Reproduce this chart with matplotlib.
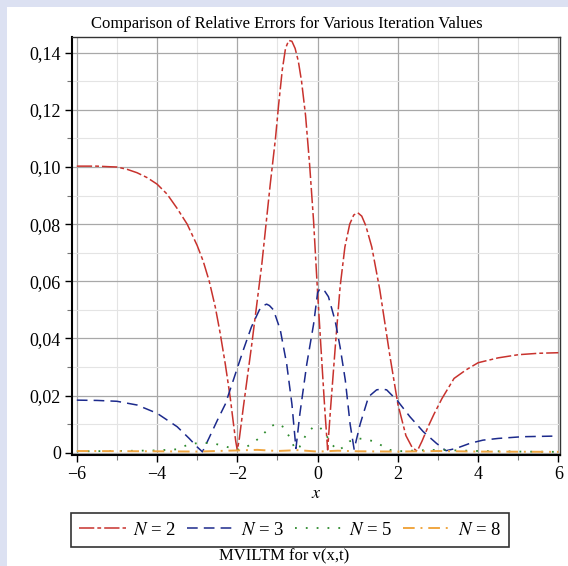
# Relative errors for several iteration counts (MVILTM, v(x,t)), Maple-like look.

import matplotlib
matplotlib.use("Agg")
import matplotlib.pyplot as plt
import matplotlib.ticker as ticker
from matplotlib.patches import Rectangle

plt.rcParams['font.family'] = ['Liberation Serif', 'DejaVu Serif']
plt.rcParams['mathtext.fontset'] = 'stix'

# N = 2 (red)
x_n2 = [-6, -5.5, -5.2, -5, -4.75, -4.5, -4.25, -4, -3.75, -3.5, -3.25, -3, -2.85, -2.7,
        -2.55, -2.43, -2.3, -2.18, -2.1, -2.04, -2.0, -1.95, -1.85, -1.64, -1.39, -1.18,
        -1.05, -0.97, -0.88, -0.8, -0.72, -0.64, -0.56, -0.48, -0.4, -0.3, -0.2, -0.1,
        0.0, 0.1, 0.18, 0.25, 0.32, 0.44, 0.56, 0.68, 0.8, 0.9, 1.0, 1.1, 1.2, 1.35,
        1.55, 1.8, 2.0, 2.2, 2.35, 2.48, 2.6, 2.75, 2.9, 3.1, 3.4, 3.7, 4.0, 4.5, 5.0,
        5.5, 6.0]
y_n2 = [0.1003, 0.1003, 0.1001, 0.1000, 0.0992, 0.0980, 0.0963, 0.0940, 0.0905, 0.0855,
        0.0800, 0.0725, 0.0670, 0.0600, 0.0510, 0.0420, 0.0310, 0.0196, 0.0105, 0.0040,
        0.0008, 0.0050, 0.0160, 0.0380, 0.0660, 0.0940, 0.1100, 0.1220, 0.1340, 0.1415,
        0.1443, 0.1440, 0.1415, 0.1370, 0.1300, 0.1180, 0.1010, 0.0810, 0.0560, 0.0330,
        0.0150, 0.0010, 0.0150, 0.0370, 0.0580, 0.0720, 0.0800, 0.0832, 0.0840, 0.0828,
        0.0795, 0.0720, 0.0570, 0.0340, 0.0170, 0.0060, 0.0020, 0.0005, 0.0040, 0.0090,
        0.0135, 0.0190, 0.0260, 0.0290, 0.0315, 0.0332, 0.0343, 0.0348, 0.0350]

# N = 3 (blue)
x_n3 = [-6, -5.5, -5, -4.5, -4, -3.5, -3.2, -3.0, -2.87, -2.7, -2.5, -2.3, -2.1, -1.85,
        -1.65, -1.45, -1.35, -1.27, -1.2, -1.1, -0.93, -0.77, -0.64, -0.54, -0.44, -0.27,
        -0.1, 0.0, 0.05, 0.1, 0.18, 0.27, 0.44, 0.56, 0.69, 0.81, 0.91, 1.06, 1.27, 1.47,
        1.6, 1.72, 2.0, 2.3, 2.63, 2.96, 3.2, 3.45, 3.8, 4.12, 4.5, 5.1, 5.85]
y_n3 = [0.0184, 0.0183, 0.0180, 0.0167, 0.0138, 0.0091, 0.0050, 0.0020, 0.0003, 0.0053,
        0.0113, 0.0170, 0.0254, 0.0360, 0.0440, 0.0500, 0.0515, 0.0520, 0.0515, 0.0500,
        0.0430, 0.0310, 0.0170, 0.0015, 0.0138, 0.0310, 0.0450, 0.0560, 0.0572, 0.0575,
        0.0565, 0.0546, 0.0460, 0.0370, 0.0254, 0.0100, 0.0012, 0.0100, 0.0196, 0.0220,
        0.0223, 0.0220, 0.0180, 0.0126, 0.0074, 0.0033, 0.0007, 0.0015, 0.0033, 0.0044,
        0.0050, 0.0056, 0.0058]

# N = 5 (green)
x_n5 = [-6, -5, -4, -3.5, -3.2, -2.9, -2.6, -2.3, -2.0, -1.8, -1.6, -1.4, -1.2, -1.03,
        -0.85, -0.7, -0.55, -0.45, -0.3, -0.1, 0.05, 0.2, 0.35, 0.5, 0.65, 0.8, 1.0,
        1.15, 1.4, 1.6, 1.8, 2.0, 2.5, 3, 4, 5, 6]
y_n5 = [0.0005, 0.0006, 0.0008, 0.0012, 0.0030, 0.0035, 0.0033, 0.0022, 0.0010, 0.0018,
        0.0035, 0.0058, 0.0088, 0.0103, 0.0090, 0.0055, 0.0010, 0.0020, 0.0060, 0.0092,
        0.0090, 0.0065, 0.0030, 0.0008, 0.0020, 0.0040, 0.0050, 0.0048, 0.0040, 0.0025,
        0.0010, 0.0005, 0.0008, 0.0010, 0.0006, 0.0004, 0.0003]

# N = 8 (orange)
x_n8 = [-6, -4, -3, -2, -1.5, -1, -0.5, 0, 0.5, 1, 2, 3, 4, 6]
y_n8 = [0.0006, 0.0005, 0.0004, 0.0008, 0.0010, 0.0006, 0.0009, 0.0004, 0.0007, 0.0005,
        0.0004, 0.0006, 0.0004, 0.0003]

labels = [r'$N$ = 2', r'$N$ = 3', r'$N$ = 5', r'$N$ = 8']
colors = ['#c8322d', '#1c2a8c', '#2e8b2e', '#f0a640']

W, H = 568, 566
fig = plt.figure(figsize=(W / 100, H / 100), dpi=100)
fig.patch.set_facecolor('white')

# lavender frame strips top and left
fig.patches.append(Rectangle((0, 1 - 7 / H), 1, 7 / H, transform=fig.transFigure,
                             facecolor='#dce1f2', edgecolor='none', zorder=0))
fig.patches.append(Rectangle((0, 0), 7 / W, 1, transform=fig.transFigure,
                             facecolor='#dce1f2', edgecolor='none', zorder=0))

ax = fig.add_axes([72 / W, 1 - 455 / H, (560 - 72) / W, (455 - 37) / H])

l2, = ax.plot(x_n2, y_n2, color=colors[0], lw=1.1, dashes=(10, 2, 2.5, 2))
l3, = ax.plot(x_n3, y_n3, color=colors[1], lw=1.1, dashes=(7, 4))
l5, = ax.plot(x_n5, y_n5, color=colors[2], lw=1.3, dashes=(1, 5))
l8, = ax.plot(x_n8, y_n8, color=colors[3], lw=1.4, dashes=(6, 3, 1, 3))

ax.set_xlim(-6.12, 6.04)
ax.set_ylim(-0.0008, 0.1455)

ax.xaxis.set_major_locator(ticker.MultipleLocator(2))
ax.xaxis.set_minor_locator(ticker.MultipleLocator(1))
ax.yaxis.set_major_locator(ticker.MultipleLocator(0.02))
ax.yaxis.set_minor_locator(ticker.MultipleLocator(0.01))


def comma_fmt(v, pos):
    if abs(v) < 1e-9:
        return '0'
    return f'{v:.2f}'.replace('.', ',')


ax.yaxis.set_major_formatter(ticker.FuncFormatter(comma_fmt))

ax.grid(which='major', color='#a8a8a8', lw=0.9)
ax.grid(which='minor', color='#e4e4e4', lw=0.8)
ax.set_axisbelow(True)

ax.tick_params(which='major', direction='out', length=5, width=1, labelsize=13, pad=3)
ax.tick_params(which='minor', direction='out', length=3.5, width=0.8, color='#777777')
for side in ['left', 'bottom']:
    ax.spines[side].set_linewidth(1.5)
for side in ['top', 'right']:
    ax.spines[side].set_linewidth(1.0)
    ax.spines[side].set_color('#333333')

ax.set_xlabel('$x$', fontsize=13, labelpad=1)

fig.text(287 / W, 1 - 24 / H, 'Comparison of Relative Errors for Various Iteration Values',
         ha='center', va='center', fontsize=12)

leg = fig.legend([l2, l3, l5, l8], labels, ncol=4, loc='center',
                 bbox_to_anchor=(290 / W, 1 - 530 / H), fontsize=13.5,
                 handlelength=2.5, handletextpad=0.4, columnspacing=0.55,
                 borderpad=0.45, fancybox=False, frameon=True)
leg.get_frame().set_edgecolor('black')
leg.get_frame().set_linewidth(1.2)

fig.text(284 / W, 1 - 556 / H, 'MVILTM for v(x,t)', ha='center', va='center', fontsize=12)

fig.savefig('out.png', dpi=100, facecolor=fig.get_facecolor())
